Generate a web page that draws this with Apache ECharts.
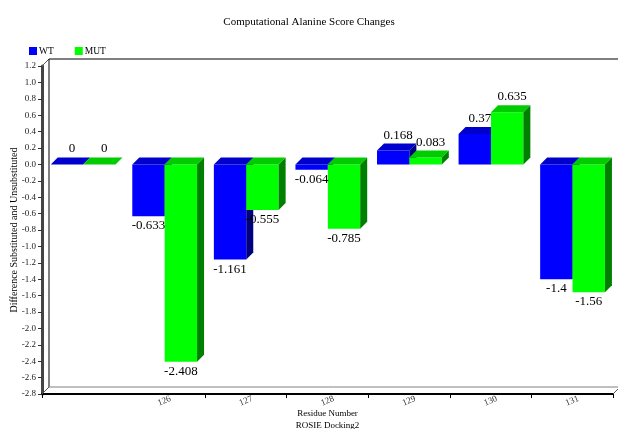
<!DOCTYPE html>
<html>
<head>
<meta charset="utf-8">
<script src="https://cdn.jsdelivr.net/npm/echarts@6/dist/echarts.min.js"></script>
<style>
  html, body { margin: 0; padding: 0; background: #fff; }
  #chart { width: 618px; height: 429px; }
</style>
</head>
<body>
<div id="chart"></div>
<script>
// Residue numbers (first group has no printed label)
const categories = ['', '126', '127', '128', '129', '130', '131'];
// Score differences per residue
const wtValues = [0, -0.633, -1.161, -0.064, 0.168, 0.37, -1.4];
const mutValues = [0, -2.408, -0.555, -0.785, 0.083, 0.635, -1.56];
// Value axis range
const yMin = -2.8;
const yMax = 1.2;
const yStep = 0.2;

const SERIF = '"Liberation Serif", "DejaVu Serif", serif';
const DEPTH = 7;

// Plot area
const G = { left: 42, right: 5, top: 66, bottom: 35 };
const W = 618, H = 429;

const palettes = [
  { front: '#0000ff', top: '#0000cc', side: '#000080' },
  { front: '#00ff00', top: '#00cc00', side: '#008000' }
];

// Pixel geometry of one pseudo-3D bar, slot 0 = WT, slot 1 = MUT
function barGeom(api, idx, v, slot) {
  const band = api.size([1, 0])[0];
  const base = api.coord([idx, 0]);
  const end = api.coord([idx, v]);
  const start = base[0] - band / 2;
  const barW = band * 0.397;
  const x0 = start + band * 0.107 + slot * barW;
  return {
    x0: x0,
    x1: x0 + barW,
    w: barW,
    top: Math.min(base[1], end[1]),
    bot: Math.max(base[1], end[1])
  };
}

function renderBar(params, api) {
  const idx = api.value(0);
  const v = api.value(1);
  const g = barGeom(api, idx, v, params.seriesIndex);
  const d = DEPTH;
  const c = palettes[params.seriesIndex];
  const children = [];
  if (g.bot - g.top > 0.01) {
    children.push({
      type: 'rect',
      shape: { x: g.x0, y: g.top, width: g.w, height: g.bot - g.top },
      style: { fill: c.front }
    });
    children.push({
      type: 'polygon',
      shape: { points: [[g.x1, g.top], [g.x1 + d, g.top - d], [g.x1 + d, g.bot - d], [g.x1, g.bot]] },
      style: { fill: c.side }
    });
  }
  children.push({
    type: 'polygon',
    shape: { points: [[g.x0, g.top], [g.x1, g.top], [g.x1 + d, g.top - d], [g.x0 + d, g.top - d]] },
    style: { fill: c.top }
  });
  return { type: 'group', children: children };
}

// Value labels: above the top face for positive values, below the bar for negative ones
function renderLabel(params, api) {
  const idx = api.value(0);
  const v = api.value(1);
  const slot = api.value(2);
  const g = barGeom(api, idx, v, slot);
  const d = DEPTH;
  const pos = v >= 0;
  return {
    type: 'text',
    style: {
      text: String(v),
      x: pos ? (g.x0 + g.x1) / 2 + d - 2 : (g.x0 + g.x1) / 2,
      y: pos ? g.top - d - 2 : g.bot + 3,
      align: 'center',
      verticalAlign: pos ? 'bottom' : 'top',
      font: '13px ' + SERIF,
      fill: '#000'
    }
  };
}

const chart = echarts.init(document.getElementById('chart'), null, { renderer: 'canvas' });

// 3D box outline: back wall and floor edges
const L = G.left, T = G.top, R = W - G.right, B = H - G.bottom, d = DEPTH;
const line = (x1, y1, x2, y2, color, width) => ({
  type: 'line',
  shape: { x1: x1, y1: y1, x2: x2, y2: y2 },
  style: { stroke: color, lineWidth: width },
  z: 1
});

const labelData = wtValues.map((v, i) => [i, v, 0])
  .concat(mutValues.map((v, i) => [i, v, 1]));

chart.setOption({
  animation: false,
  backgroundColor: '#ffffff',
  title: {
    text: 'Computational Alanine Score Changes',
    left: 'center',
    top: 12,
    textStyle: { fontFamily: SERIF, fontSize: 11, fontWeight: 'normal', color: '#000' }
  },
  legend: {
    left: 24,
    top: 41,
    itemWidth: 8,
    itemHeight: 8,
    itemGap: 21,
    icon: 'rect',
    textStyle: { fontFamily: SERIF, fontSize: 9.5, color: '#000', padding: [0, 0, 0, -3] },
    data: ['WT', 'MUT']
  },
  grid: { left: G.left, right: G.right, top: G.top, bottom: G.bottom, outerBoundsMode: 'none', containLabel: false },
  xAxis: {
    type: 'category',
    data: categories,
    boundaryGap: true,
    name: 'Residue Number\nROSIE Docking2',
    nameLocation: 'middle',
    nameGap: 14,
    nameMoveOverlap: false,
    nameTextStyle: { fontFamily: SERIF, fontSize: 9, color: '#000', lineHeight: 11.5, verticalAlign: 'top' },
    axisLine: { onZero: false, lineStyle: { color: '#000', width: 2 } },
    axisTick: { show: true, length: 4, interval: (i) => i !== 1, lineStyle: { color: '#000' } },
    axisLabel: {
      rotate: 22, align: 'center', verticalAlign: 'middle', margin: 7,
      fontFamily: SERIF, fontSize: 9, color: '#333'
    },
    splitLine: { show: false }
  },
  yAxis: {
    type: 'value',
    min: yMin,
    max: yMax,
    interval: yStep,
    name: 'Difference Substituted and Unsubstituted',
    nameLocation: 'middle',
    nameGap: 23,
    nameMoveOverlap: false,
    nameTextStyle: { fontFamily: SERIF, fontSize: 10, color: '#000' },
    axisLine: { show: true, lineStyle: { color: '#444', width: 3 } },
    axisTick: { show: true, length: 4, lineStyle: { color: '#333' } },
    axisLabel: {
      margin: 6, fontFamily: SERIF, fontSize: 9, color: '#222',
      formatter: (val) => (Math.abs(val) < 1e-9 ? 0 : val).toFixed(1)
    },
    splitLine: { show: false }
  },
  graphic: [
    line(L, T, L + d, T - d, '#555', 1),
    line(L + d, T - d, W, T - d, '#808080', 2),
    line(L + d, T - d, L + d, B - d, '#000', 1),
    line(L + d, B - d, W, B - d, '#808080', 1),
    line(L, B, L + d, B - d, '#555', 1),
    line(R, B, R + d, B - d, '#555', 1)
  ],
  series: [
    {
      name: 'WT',
      type: 'custom',
      renderItem: renderBar,
      itemStyle: { color: '#0000ff' },
      data: wtValues.map((v, i) => [i, v]),
      encode: { x: 0, y: 1 },
      z: 2
    },
    {
      name: 'MUT',
      type: 'custom',
      renderItem: renderBar,
      itemStyle: { color: '#00ff00' },
      data: mutValues.map((v, i) => [i, v]),
      encode: { x: 0, y: 1 },
      z: 3
    },
    {
      name: 'values',
      type: 'custom',
      renderItem: renderLabel,
      data: labelData,
      encode: { x: 0, y: 1 },
      silent: true,
      z: 4
    }
  ]
});
</script>
</body>
</html>
